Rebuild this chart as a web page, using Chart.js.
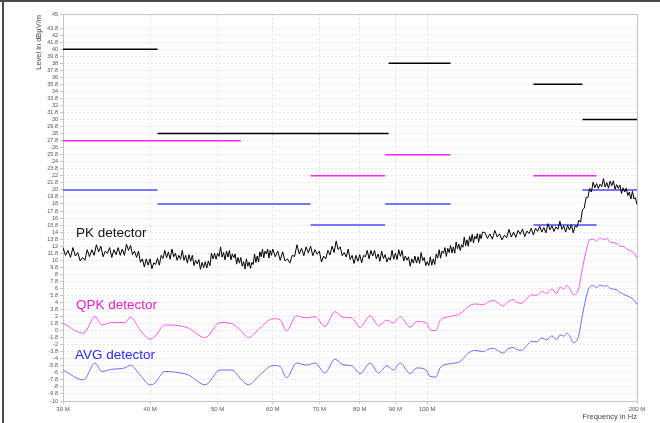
<!DOCTYPE html>
<html>
<head>
<meta charset="utf-8">
<script src="https://cdn.jsdelivr.net/npm/chart.js@4.4.1/dist/chart.umd.min.js"></script>
<style>
  html, body { margin: 0; padding: 0; background: #fff; }
  #wrap { position: relative; width: 660px; height: 423px; overflow: hidden; }
  #wrap .frameTop { position: absolute; left: 0; top: 0; width: 660px; height: 2px; background: #4a4a4a; }
  #wrap .frameLeft { position: absolute; left: 2px; top: 0; width: 2px; height: 423px; background: #4a4a4a; }
  canvas { display: block; }
</style>
</head>
<body>
<div id="wrap">
  <canvas id="chart" width="660" height="423"></canvas>
  <div class="frameTop"></div>
  <div class="frameLeft"></div>
</div>
<script>
// ---- data (frequency in MHz, level in dBµV/m) ----
const xTickValues = [30, 40, 50, 60, 70, 80, 90, 100, 200];
const xTickLabels = ['30 M', '40 M', '50 M', '60 M', '70 M', '80 M', '90 M', '100 M', '200 M'];

const yTickValues = [45, 43, 42, 41, 40, 39, 38, 37, 36, 35, 34, 33, 32, 31, 30, 29, 28, 27, 26, 25, 24, 23, 22, 21, 20,
  19, 18, 17, 16, 15, 14, 13, 12, 11, 10, 9, 8, 7, 6, 5, 4, 3, 2, 1, 0, -1, -2, -3, -4, -5, -6, -7, -8, -9, -10];
const yTickLabels = ['45', '43.8', '42', '41.8', '40', '39.8', '38', '37.8', '36', '35.8', '34', '33.8', '32', '31.8',
  '30', '29.8', '28', '27.8', '26', '25.8', '24', '23.8', '22', '21.8', '20', '19.8', '18', '17.8', '16', '15.8', '14',
  '13.8', '12', '11.8', '10', '9.8', '8', '7.8', '6', '5.8', '4', '3.8', '2', '1.8', '0', '-1.8', '-2', '-3.8', '-4',
  '-5.8', '-6', '-7.8', '-8', '-9.8', '-10'];

// PK trace (dense, noisy)
const pkFreq = [
  30, 30.25, 30.5, 30.75, 31, 31.25, 31.5, 31.75, 32, 32.25, 32.5, 32.75,
  33, 33.25, 33.5, 33.75, 34, 34.25, 34.5, 34.75, 35, 35.25, 35.5, 35.75,
  36, 36.25, 36.5, 36.75, 37, 37.25, 37.5, 37.75, 38, 38.25, 38.5, 38.75,
  39, 39.25, 39.5, 39.75, 40, 40.25, 40.5, 40.75, 41, 41.25, 41.5, 41.75,
  42, 42.25, 42.5, 42.75, 43, 43.25, 43.5, 43.75, 44, 44.25, 44.5, 44.75,
  45, 45.25, 45.5, 45.75, 46, 46.25, 46.5, 46.75, 47, 47.25, 47.5, 47.75,
  48, 48.25, 48.5, 48.75, 49, 49.25, 49.5, 49.75, 50, 50.25, 50.5, 50.75,
  51, 51.25, 51.5, 51.75, 52, 52.25, 52.5, 52.75, 53, 53.25, 53.5, 53.75,
  54, 54.25, 54.5, 54.75, 55, 55.25, 55.5, 55.75, 56, 56.25, 56.5, 56.75,
  57, 57.25, 57.5, 57.75, 58, 58.25, 58.5, 58.75, 59, 59.25, 59.5, 59.75,
  60,
  60.5, 61, 61.5, 62, 62.5, 63, 63.5, 64, 64.5, 65, 65.5, 66,
  66.5, 67, 67.5, 68, 68.5, 69, 69.5, 70, 70.5, 71, 71.5, 72,
  72.5, 73, 73.5, 74, 74.5, 75, 75.5, 76, 76.5, 77, 77.5, 78,
  78.5, 79, 79.5, 80, 80.5, 81, 81.5, 82, 82.5, 83, 83.5, 84,
  84.5, 85, 85.5, 86, 86.5, 87, 87.5, 88, 88.5, 89, 89.5, 90,
  90.5, 91, 91.5, 92, 92.5, 93, 93.5, 94, 94.5, 95, 95.5, 96,
  96.5, 97, 97.5, 98, 98.5, 99, 99.5, 100, 100.5, 101, 101.5, 102,
  102.5, 103, 103.5, 104, 104.5, 105, 105.5, 106, 106.5, 107, 107.5, 108,
  108.5, 109, 109.5, 110, 110.5, 111, 111.5, 112, 112.5, 113, 113.5, 114,
  114.5, 115, 115.5, 116, 116.5, 117, 117.5, 118, 118.5, 119, 119.5, 120,
  121, 122, 123, 124, 125, 126, 127, 128, 129, 130,
  131, 132, 133, 134, 135, 136, 137, 138, 139, 140,
  141, 142, 143, 144, 145, 146, 147, 148, 149, 150,
  151, 152, 153, 154, 155, 156, 157, 158, 159, 160,
  161, 162, 163, 164, 165, 166, 167, 168, 169, 170,
  171, 172, 173, 174, 175, 176, 177, 178, 179, 180,
  181, 182, 183, 184, 185, 186, 187, 188, 189, 190,
  191, 192, 193, 194, 195, 196, 197, 198, 199, 200
];
const pkLevel = [
  11.8, 10.7, 11.4, 10.4, 11.8, 10.6, 11.1, 9.9, 10.4, 10.0, 11.5, 10.5,
  11.5, 10.7, 12.2, 11.2, 12.0, 10.5, 11.3, 11.0, 11.8, 10.4, 11.5, 10.8,
  11.8, 10.7, 11.6, 10.7, 12.3, 11.4, 12.1, 10.8, 11.3, 10.4, 11.3, 9.7,
  10.2, 9.05, 10.2, 9.3, 10.2, 8.8, 9.65, 9.4, 10.3, 9.3, 10.7, 10.25,
  11.4, 10.35, 11.2, 10.15, 11.6, 10.5, 11.0, 10.0, 10.7, 10.15, 11.4, 10.0,
  10.7, 9.6, 10.8, 9.85, 10.7, 9.25, 10.0, 9.5, 10.1, 8.7, 9.7, 8.95,
  9.8, 8.9, 9.9, 9.2, 11.0, 10.2, 11.0, 10.15, 11.0, 10.55, 11.9, 10.45,
  11.1, 10.05, 11.3, 10.45, 11.4, 10.05, 10.9, 10.35, 10.9, 9.45, 10.4, 9.6,
  10.4, 9.15, 9.8, 8.75, 10.2, 9.15, 9.75, 8.85, 9.7, 9.4, 10.9, 9.7,
  10.6, 9.75, 11.2, 10.5, 11.6, 10.35, 11.3, 10.9, 11.6, 10.3, 11.4, 10.7,
  11.6,
  10.5, 11.3, 10.0, 11.2, 9.9, 10.2, 9.6, 10.7, 10.55, 12.2, 10.9, 11.7,
  10.65, 11.9, 11.05, 12.0, 10.65, 11.5, 10.85, 11.3, 9.75, 10.6, 10.2, 11.4,
  10.75, 12.0, 11.1, 12.75, 11.5, 11.9, 10.65, 11.1, 10.45, 11.6, 10.1, 10.7,
  9.55, 10.7, 9.85, 10.8, 9.65, 10.7, 10.5, 11.4, 10.2, 11.4, 10.6, 11.4,
  10.2, 10.9, 9.85, 11.3, 10.25, 10.8, 9.75, 10.4, 10.0, 11.4, 10.15, 11.0,
  10.1, 11.5, 10.55, 11.4, 9.9, 10.6, 10.0, 10.5, 9.15, 10.2, 9.6, 10.6,
  9.6, 10.5, 9.55, 11.1, 9.95, 10.4, 9.25, 9.8, 9.25, 10.5, 9.3, 10.2,
  9.4, 10.9, 10.3, 11.5, 10.3, 11.3, 11.0, 11.8, 10.55, 11.7, 11.1, 12.1,
  11.05, 11.9, 11.0, 12.6, 11.65, 12.3, 11.4, 12.2, 11.85, 13.3, 12.05, 12.9,
  12.0, 13.4, 12.65, 13.7, 12.45, 13.4, 13.05, 13.8, 12.55, 13.7, 13.05, 14.0,
  13.95, 13.1, 13.75, 13.0, 14.25, 13.3, 13.75, 12.9, 13.55, 13.2,
  14.4, 13.3, 14.0, 13.25, 14.25, 13.7, 14.45, 13.35, 14.15, 13.8,
  14.55, 13.6, 14.55, 14.1, 14.85, 14.0, 14.65, 13.9, 15.2, 14.35,
  14.9, 14.1, 14.75, 14.4, 15.55, 14.4, 14.9, 14.0, 14.95, 14.3,
  15.05, 13.9, 14.9, 14.7, 15.7, 15.4, 17.2, 17.4, 18.9, 18.9,
  20.2, 19.7, 21.1, 20.3, 20.9, 20.2, 20.8, 20.45, 21.6, 20.4,
  21.05, 20.25, 21.25, 20.6, 21.3, 20.1, 20.75, 20.2, 20.7, 19.5,
  20.3, 19.7, 20.25, 19.2, 19.7, 18.7, 19.8, 18.7, 18.9, 17.9
];

// QPK and AVG traces share one frequency list
const traceFreq = [
  30.0, 32.1, 33.35, 34.1, 35.2, 36.8, 37.5, 38.7, 40.0, 40.6,
  42.0, 44.2, 45.4, 48.0, 50.4, 52.4, 54.15, 55.35, 57.5, 60.1,
  61.5, 62.8, 64.9, 67.1, 69.0, 71.3, 73.7, 75.7, 77.9, 80.1,
  82.8, 85.1, 87.5, 89.4, 91.4, 94.5, 96.6, 99.8, 100.9, 102.9,
  104.3, 107.8, 111.4, 114.5, 117, 120.4, 122, 124.4, 126.5, 128.6,
  130.5, 132.9, 134.5, 136.6, 139, 141.2, 143.5, 146.0, 148.5, 150.9,
  153.4, 155.1, 157, 158.6, 160, 162.1, 164.8, 167.2, 169.4, 171,
  173.1, 175, 177, 179.0, 181, 183, 185.0, 187, 189, 191.2,
  194, 196.6, 198.5, 200
];
const qpkLevel = [
  1.06, -0.36, 2.0, 0.8, 1.15, 1.15, 1.9, 0.1, -1.2, -0.9,
  0.8, 0.7, 0.35, -1.0, 1.15, 1.0, -0.1, -1.0, 0.35, 1.7,
  1.55, -0.03, 2.1, 1.8, 2.0, 0.6, 2.7, 1.9, 1.8, 0.5,
  2.1, 0.7, 1.5, 1.1, 2.0, 0.5, 1.3, 1.06, 0.1, 0.0,
  1.4, 2.0, 2.4, 3.4, 3.8, 3.7, 4.0, 4.3, 3.9, 3.5,
  4.1, 4.4, 4.0, 3.9, 4.6, 5.1, 5.0, 5.55, 5.3, 5.9,
  5.3, 6.2, 5.9, 6.4, 6.0, 5.1, 5.9, 9.1, 11.7, 12.9,
  13.0, 12.7, 13.2, 12.9, 13.1, 12.6, 12.5, 12.4, 12.0, 11.95,
  11.5, 11.25, 10.9, 10.3
];
const avgLevel = [
  -5.6, -7.0, -4.6, -5.8, -5.5, -5.3, -4.9, -6.3, -7.7, -7.5,
  -5.8, -6.0, -6.3, -7.7, -5.6, -5.6, -7.0, -7.7, -6.3, -4.95,
  -5.1, -6.7, -4.6, -4.9, -4.6, -6.0, -4.05, -4.85, -5.0, -6.1,
  -4.6, -6.0, -5.0, -5.6, -4.6, -6.1, -5.3, -5.7, -6.5, -6.6,
  -5.3, -4.7, -4.4, -3.2, -2.8, -3.0, -2.7, -2.5, -2.9, -3.2,
  -2.6, -2.4, -2.7, -2.8, -2.1, -1.55, -1.6, -1.07, -1.3, -0.74,
  -1.3, -0.6, -0.8, -0.36, -0.7, -1.7, -0.84, 2.5, 5.1, 6.2,
  6.4, 6.1, 6.5, 6.3, 6.4, 6.0, 5.9, 5.8, 5.4, 5.2,
  4.9, 4.6, 4.2, 3.7
];

// limit lines (start MHz, end MHz, level)
const pkLimStart = [30, 41, 88, 142, 167];
const pkLimEnd = [41, 88, 108, 167, 200];
const pkLimLevel = [40, 28, 38, 35, 30];
const qpkLimStart = [30, 68, 87, 142];
const qpkLimEnd = [54, 87, 108, 175];
const qpkLimLevel = [27, 22, 25, 22];
const avgLimStart = [30, 41, 68, 87, 142, 167];
const avgLimEnd = [41, 68, 87, 108, 175, 200];
const avgLimLevel = [20, 18, 15, 18, 15, 20];

const detectorLabels = ['PK detector', 'QPK detector', 'AVG detector'];

// ---- helpers ----
function toPoints(xs, ys) {
  return xs.map((x, i) => ({ x: x, y: ys[i] }));
}

function limitDatasets(starts, ends, levels, color) {
  return starts.map((s, i) => ({
    data: [{ x: s, y: levels[i] }, { x: ends[i], y: levels[i] }],
    borderColor: color,
    borderWidth: 1.5,
    pointRadius: 0,
    order: 10
  }));
}

const datasets = [
  { data: toPoints(pkFreq, pkLevel), borderColor: '#000000', borderWidth: 1, pointRadius: 0, order: 1 },
  { data: toPoints(traceFreq, qpkLevel), borderColor: '#ff55f0', borderWidth: 1, pointRadius: 0, order: 2,
    cubicInterpolationMode: 'monotone' },
  { data: toPoints(traceFreq, avgLevel), borderColor: '#6a6aff', borderWidth: 1, pointRadius: 0, order: 3,
    cubicInterpolationMode: 'monotone' }
].concat(
  limitDatasets(pkLimStart, pkLimEnd, pkLimLevel, '#000000'),
  limitDatasets(qpkLimStart, qpkLimEnd, qpkLimLevel, '#ff22ff'),
  limitDatasets(avgLimStart, avgLimEnd, avgLimLevel, '#4a4aff')
);

// frame, axis titles and detector captions
const decorPlugin = {
  id: 'decor',
  beforeDatasetsDraw(chart) {
    const { ctx, chartArea: a } = chart;
    ctx.save();
    ctx.strokeStyle = '#c4c4c4';
    ctx.lineWidth = 1;
    ctx.strokeRect(a.left + 0.5, a.top + 0.5, a.right - a.left, a.bottom - a.top);
    ctx.restore();
  },
  afterDraw(chart) {
    const { ctx, chartArea: a } = chart;
    ctx.save();
    ctx.fillStyle = '#444';
    ctx.font = '7.5px "Liberation Sans", Arial, sans-serif';
    ctx.textBaseline = 'middle';
    ctx.textAlign = 'right';
    ctx.fillText('Frequency in Hz', a.right, 417);
    ctx.translate(38.5, 15);
    ctx.rotate(-Math.PI / 2);
    ctx.fillText('Level in dBµV/m', 0, 0);
    ctx.restore();

    ctx.save();
    ctx.font = '13.5px "Liberation Sans", Arial, sans-serif';
    ctx.textAlign = 'left';
    ctx.textBaseline = 'alphabetic';
    ctx.fillStyle = '#111111';
    ctx.fillText(detectorLabels[0], 76, 237);
    ctx.fillStyle = '#dd22cc';
    ctx.fillText(detectorLabels[1], 76, 309);
    ctx.fillStyle = '#2a2aee';
    ctx.fillText(detectorLabels[2], 75, 359);
    ctx.restore();
  }
};

new Chart(document.getElementById('chart').getContext('2d'), {
  type: 'line',
  data: { datasets: datasets },
  options: {
    responsive: false,
    animation: false,
    layout: { padding: { top: 14, right: 23, left: 0, bottom: 0 } },
    plugins: { legend: { display: false }, tooltip: { enabled: false } },
    elements: { line: { tension: 0 } },
    scales: {
      x: {
        type: 'logarithmic',
        min: 30,
        max: 200,
        afterBuildTicks: s => { s.ticks = xTickValues.map(v => ({ value: v })); },
        afterFit: s => { s.height = 22; },
        ticks: {
          autoSkip: false,
          maxRotation: 0,
          padding: 2,
          color: '#555',
          font: { size: 6, family: '"Liberation Sans", Arial, sans-serif' },
          callback: v => xTickLabels[xTickValues.indexOf(v)]
        },
        grid: { color: '#e2e2e2', tickColor: '#c4c4c4', tickLength: 3 },
        border: { display: false, dash: [2, 2] }
      },
      y: {
        type: 'linear',
        min: -10,
        max: 45,
        afterBuildTicks: s => { s.ticks = yTickValues.map(v => ({ value: v })); },
        afterFit: s => { s.width = 63; },
        ticks: {
          autoSkip: false,
          padding: 2,
          color: '#555',
          font: { size: 5.5, family: '"Liberation Sans", Arial, sans-serif' },
          callback: v => yTickLabels[yTickValues.indexOf(v)]
        },
        grid: { color: '#e6e6e6', tickColor: '#c4c4c4', tickLength: 3 },
        border: { display: false, dash: [2, 2] }
      }
    }
  },
  plugins: [decorPlugin]
});
</script>
</body>
</html>
